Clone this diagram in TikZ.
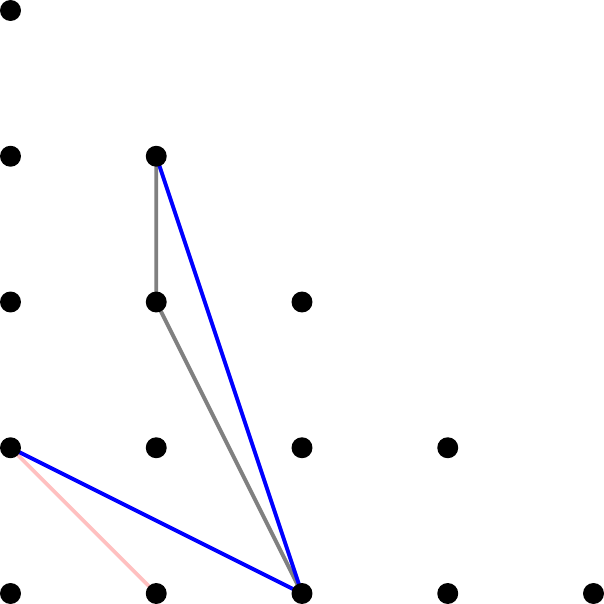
\documentclass[tikz,border=0pt]{standalone}
\usepackage{xcolor}
\usepackage{tikz}
\definecolor{lightpink}{HTML}{FFC0C0}

\begin{document}
\begin{tikzpicture}[x=1cm, y=1cm,
    dot/.style={fill=black},
    seg/.style={line width=0.75pt}]
    \useasboundingbox (-0.072,-0.072) rectangle (4.072,4.072);
    % triangular grid of points
    \foreach \i in {0,...,4} {
        \foreach \j in {0,...,4} {
            \pgfmathtruncatemacro{\s}{\i+\j}
            \ifnum\s<5
                \coordinate (p-\i-\j) at (\i,\j);
            \fi
        }
    }
    \draw[seg, gray] (p-1-3) -- (p-1-2) -- (p-2-0);
    \draw[seg, lightpink] (p-0-1) -- (p-1-0);
    \draw[seg, blue] (p-1-3) -- (p-2-0);
    \draw[seg, blue] (p-0-1) -- (p-2-0);
    \foreach \i in {0,...,4} {
        \foreach \j in {0,...,4} {
            \pgfmathtruncatemacro{\s}{\i+\j}
            \ifnum\s<5
                \fill[dot] (p-\i-\j) circle (0.072);
            \fi
        }
    }
\end{tikzpicture}
\end{document}
